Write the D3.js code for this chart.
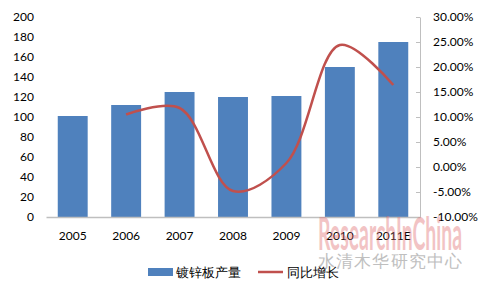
<!DOCTYPE html>
<html>
<head>
<meta charset="utf-8">
<script src="https://cdn.jsdelivr.net/npm/d3@7"></script>
<style>
  body { margin: 0; background: #fff; }
  text { font-family: Lato, "Open Sans", sans-serif; }
</style>
</head>
<body>
<div id="chart"></div>
<script>
const years = ['2005', '2006', '2007', '2008', '2009', '2010', '2011E'];
const output = [101, 112, 125, 120, 121, 150, 175];
const growthYears = ['2006', '2007', '2008', '2009', '2010', '2011E'];
const growth = [10.5, 11.8, -4.8, 0.8, 24.4, 16.4];
const leftTicks = [0, 20, 40, 60, 80, 100, 120, 140, 160, 180, 200];
const rightTicks = [-10, -5, 0, 5, 10, 15, 20, 25, 30];
const seriesNames = ['镀锌板产量', '同比增长'];

const width = 482, height = 286;
const margin = {top: 17, right: 62, bottom: 69, left: 46};
const innerW = width - margin.left - margin.right;
const innerH = height - margin.top - margin.bottom;

const svg = d3.select('#chart').append('svg')
  .attr('width', width)
  .attr('height', height);

const plot = svg.append('g')
  .attr('transform', `translate(${margin.left}, ${margin.top})`);

const x = d3.scaleBand().domain(years).range([0, innerW]).paddingInner(0.44).paddingOuter(0.22);
const y = d3.scaleLinear().domain([0, 200]).range([innerH, 0]);
const y2 = d3.scaleLinear().domain([-10, 30]).range([innerH, 0]);

// left axis (no line)
const yAxis = d3.axisLeft(y).tickValues(leftTicks).tickSize(0).tickPadding(12);
plot.append('g').call(yAxis)
  .call(g => g.select('.domain').remove())
  .selectAll('text')
    .attr('font-size', 12)
    .attr('fill', '#000');

// right axis
const y2Axis = d3.axisRight(y2).tickValues(rightTicks)
  .tickFormat(d => d.toFixed(2) + '%')
  .tickSizeInner(-4).tickSizeOuter(0).tickPadding(13);
plot.append('g')
  .attr('transform', `translate(${innerW}, 0)`)
  .call(y2Axis)
  .call(g => g.select('.domain').attr('stroke', '#bfbfbf'))
  .call(g => g.selectAll('.tick line').attr('stroke', '#bfbfbf'))
  .selectAll('text')
    .attr('font-size', 12)
    .attr('fill', '#000');

// bars
plot.selectAll('rect.bar')
  .data(output)
  .join('rect')
    .attr('class', 'bar')
    .attr('x', (d, i) => x(years[i]))
    .attr('y', d => y(d))
    .attr('width', x.bandwidth())
    .attr('height', d => innerH - y(d))
    .attr('fill', '#4f81bd');

// watermark (behind labels)
svg.append('text')
  .attr('x', 318).attr('y', 250)
  .attr('font-family', '"Liberation Sans Narrow", "DejaVu Sans Condensed", sans-serif')
  .attr('font-weight', 'bold')
  .attr('font-size', 46)
  .attr('textLength', 144)
  .attr('lengthAdjust', 'spacingAndGlyphs')
  .attr('fill', '#e06b6e')
  .attr('opacity', 0.4)
  .text('ResearchInChina');
svg.append('text')
  .attr('x', 318).attr('y', 267)
  .attr('font-family', '"Noto Sans CJK SC", sans-serif')
  .attr('font-size', 17)
  .attr('textLength', 144)
  .attr('fill', '#b0b0b0')
  .attr('opacity', 0.8)
  .text('水清木华研究中心');

// bottom axis
const xAxis = d3.axisBottom(x).tickSize(0).tickPadding(14);
plot.append('g')
  .attr('transform', `translate(0, ${innerH})`)
  .call(xAxis)
  .call(g => g.select('.domain').attr('stroke', '#bfbfbf').attr('stroke-width', 1.5))
  .selectAll('text')
    .attr('font-size', 12)
    .attr('fill', '#000');

// growth line
const line = d3.line()
  .x((d, i) => x(growthYears[i]) + x.bandwidth() / 2)
  .y(d => y2(d))
  .curve(d3.curveCatmullRom.alpha(0.5));
plot.append('path')
  .datum(growth)
  .attr('fill', 'none')
  .attr('stroke', '#c0504d')
  .attr('stroke-width', 2.5)
  .attr('d', line);

// legend
const legend = svg.append('g').attr('transform', 'translate(148, 272)');
legend.append('rect')
  .attr('x', 0).attr('y', -4)
  .attr('width', 25).attr('height', 8)
  .attr('fill', '#4f81bd');
legend.append('text')
  .attr('x', 28).attr('y', 5)
  .attr('font-family', '"Noto Sans CJK SC", sans-serif')
  .attr('font-size', 13)
  .text(seriesNames[0]);
legend.append('line')
  .attr('x1', 110).attr('x2', 135)
  .attr('y1', 0).attr('y2', 0)
  .attr('stroke', '#c0504d')
  .attr('stroke-width', 2.5);
legend.append('text')
  .attr('x', 139).attr('y', 5)
  .attr('font-family', '"Noto Sans CJK SC", sans-serif')
  .attr('font-size', 13)
  .text(seriesNames[1]);
</script>
</body>
</html>
